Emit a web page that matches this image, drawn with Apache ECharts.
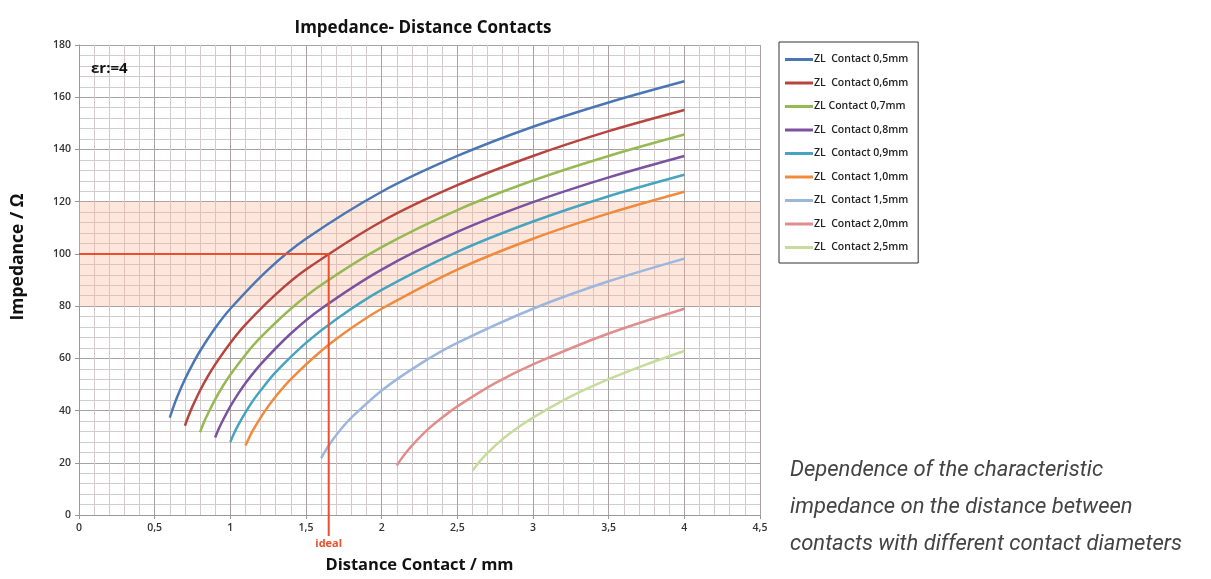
<!DOCTYPE html>
<html>
<head>
<meta charset="utf-8">
<script src="https://cdn.jsdelivr.net/npm/echarts@6/dist/echarts.min.js"></script>
<style>html,body{margin:0;padding:0;background:#fff;}#c{width:1211px;height:579px;}</style>
</head>
<body>
<div id="c"></div>
<script>
// ---- data ----
const seriesNames = ['ZL  Contact 0,5mm','ZL  Contact 0,6mm','ZL Contact 0,7mm','ZL  Contact 0,8mm','ZL  Contact 0,9mm','ZL  Contact 1,0mm','ZL  Contact 1,5mm','ZL  Contact 2,0mm','ZL  Contact 2,5mm'];
const seriesColors = ['#4a76b5','#b8443f','#96b954','#7a52a0','#47a4bf','#f08a3c','#9bb7de','#e08e8c','#c5dc9c'];

const dist05 = [0.6, 0.625, 0.65, 0.7, 0.75, 0.8, 0.9, 1.0, 1.25, 1.5, 2, 2.5, 3, 3.5, 4];
const imp05  = [37.3, 41.6, 45.4, 52.0, 57.7, 62.8, 71.6, 79.0, 94.0, 105.8, 123.8, 137.5, 148.7, 158.0, 166.1];
const dist06 = [0.7, 0.725, 0.75, 0.8, 0.85, 0.9, 1.0, 1.1, 1.3, 1.5, 2, 2.5, 3, 3.5, 4];
const imp06  = [34.2, 38.1, 41.6, 47.7, 53.0, 57.7, 65.9, 72.9, 84.5, 94.0, 112.4, 126.3, 137.5, 147.0, 155.1];
const dist07 = [0.8, 0.825, 0.85, 0.9, 0.95, 1.0, 1.1, 1.2, 1.4, 1.6, 2, 2.5, 3, 3.5, 4];
const imp07  = [31.7, 35.4, 38.6, 44.3, 49.3, 53.7, 61.4, 68.0, 79.0, 88.1, 102.6, 116.8, 128.1, 137.5, 145.7];
const dist08 = [0.9, 0.925, 0.95, 1.0, 1.05, 1.1, 1.2, 1.4, 1.6, 2, 2.5, 3, 3.5, 4];
const imp08  = [29.7, 33.2, 36.2, 41.6, 46.3, 50.5, 57.7, 69.5, 79.0, 94.0, 108.4, 119.8, 129.3, 137.5];
const dist09 = [1.0, 1.025, 1.05, 1.1, 1.15, 1.2, 1.3, 1.5, 1.7, 2, 2.5, 3, 3.5, 4];
const imp09  = [28.0, 31.3, 34.2, 39.3, 43.8, 47.7, 54.7, 65.9, 75.0, 86.2, 100.8, 112.4, 122.1, 130.3];
const dist10 = [1.1, 1.125, 1.15, 1.2, 1.25, 1.3, 1.4, 1.6, 1.8, 2, 2.5, 3, 3.5, 4];
const imp10  = [26.6, 29.7, 32.5, 37.3, 41.6, 45.4, 52.0, 62.8, 71.6, 79.0, 94.0, 105.8, 115.5, 123.8];
const dist15 = [1.6, 1.625, 1.65, 1.7, 1.75, 1.8, 2, 2.25, 2.5, 3, 3.5, 4];
const imp15  = [21.8, 24.3, 26.6, 30.6, 34.2, 37.3, 47.7, 57.7, 65.9, 79.0, 89.5, 98.2];
const dist20 = [2.1, 2.125, 2.15, 2.2, 2.3, 2.4, 2.5, 2.75, 3, 3.5, 4];
const imp20  = [18.9, 21.1, 23.1, 26.6, 32.5, 37.3, 41.6, 50.5, 57.7, 69.5, 79.0];
const dist25 = [2.6, 2.625, 2.65, 2.7, 2.8, 2.9, 3, 3.25, 3.5, 3.75, 4];
const imp25  = [16.9, 18.9, 20.7, 23.8, 29.1, 33.5, 37.3, 45.4, 52.0, 57.7, 62.8];

const idealDistance = 1.65;
const idealImpedance = 100;
const bandLow = 80, bandHigh = 120;
const xTicks = ['0','0,5','1','1,5','2','2,5','3','3,5','4','4,5'];
const captionLines = ['Dependence of the characteristic','impedance on the distance between','contacts with different contact diameters'];

const allDist = [dist05, dist06, dist07, dist08, dist09, dist10, dist15, dist20, dist25];
const allImp  = [imp05, imp06, imp07, imp08, imp09, imp10, imp15, imp20, imp25];

const chart = echarts.init(document.getElementById('c'), null, {renderer:'canvas'});
const FONT = 'Open Sans';

const series = seriesNames.map((name, i) => ({
  name: name,
  type: 'line',
  data: allDist[i].map((d, k) => [d, allImp[i][k]]),
  smooth: 0.3,
  showSymbol: false,
  symbol: 'none',
  lineStyle: {color: seriesColors[i], width: 2.5},
  itemStyle: {color: seriesColors[i]},
  z: 3
}));

// band + ideal marker
series.unshift({
  name: 'band',
  type: 'line',
  data: [],
  silent: true,
  markArea: {
    silent: true,
    itemStyle: {color: 'rgba(248,180,150,0.33)'},
    data: [[{yAxis: bandLow}, {yAxis: bandHigh}]]
  },
  z: 1
});
series.push({
  name: 'ideal',
  type: 'line',
  clip: false,
  silent: true,
  symbol: 'none',
  lineStyle: {color: '#e8502f', width: 2},
  data: [[0, idealImpedance], [idealDistance, idealImpedance], [idealDistance, -8]],
  markPoint: {
    silent: true,
    symbol: 'circle', symbolSize: 1,
    itemStyle: {color: 'rgba(0,0,0,0)'},
    label: {show: true, formatter: 'ideal', position: 'inside', offset: [0, 29], color: '#e8502f', fontFamily: FONT, fontWeight: 'bold', fontSize: 11},
    data: [{coord: [idealDistance, 0]}]
  },
  z: 4
});

chart.setOption({
  animation: false,
  backgroundColor: '#fff',
  title: {
    text: 'Impedance- Distance Contacts',
    left: 418, top: 15, textAlign: 'center',
    textStyle: {fontFamily: FONT, fontWeight: 'bold', fontSize: 17, color: '#111'}
  },
  legend: {
    data: seriesNames,
    orient: 'vertical',
    left: 779, top: 42,
    padding: [11, 10, 9, 6],
    itemGap: 10.5,
    itemWidth: 28, itemHeight: 3,
    icon: 'rect',
    borderColor: '#333', borderWidth: 1,
    backgroundColor: '#fff',
    textStyle: {fontFamily: FONT, fontSize: 10.5, fontWeight: 600, lineHeight: 13, color: '#222', padding: [0,0,0,-4]}
  },
  grid: {left: 79, right: 451, top: 45, bottom: 62, containLabel: false},
  xAxis: {
    type: 'value', min: 0, max: 4.5, interval: 0.5,
    name: 'Distance Contact / mm', nameLocation: 'middle', nameGap: 42,
    nameTextStyle: {fontFamily: FONT, fontWeight: 'bold', fontSize: 16.5, color: '#111'},
    axisLine: {show: true, lineStyle: {color: '#999'}},
    axisTick: {show: true, length: 4, lineStyle: {color: '#999'}},
    axisLabel: {fontFamily: FONT, fontSize: 10.5, fontWeight: 600, color: '#333', margin: 8,
      formatter: v => xTicks[Math.round(v / 0.5)]},
    splitLine: {show: true, lineStyle: {color: '#aaa2a2', width: 1}},
    minorTick: {show: false, splitNumber: 5},
    minorSplitLine: {show: true, lineStyle: {color: '#d3cbcb', width: 1}}
  },
  yAxis: {
    type: 'value', min: 0, max: 180, interval: 20,
    axisLine: {show: true, lineStyle: {color: '#999'}},
    axisTick: {show: true, length: 4, lineStyle: {color: '#999'}},
    axisLabel: {fontFamily: FONT, fontSize: 10.5, fontWeight: 600, color: '#333', margin: 8},
    splitLine: {show: true, lineStyle: {color: '#aaa2a2', width: 1}},
    minorTick: {show: false, splitNumber: 5},
    minorSplitLine: {show: true, lineStyle: {color: '#d3cbcb', width: 1}}
  },
  graphic: [
    {type: 'text', x: 18, y: 257, rotation: Math.PI / 2, z: 10,
      style: {text: 'Impedance / Ω', fontFamily: FONT, fontWeight: 'bold', fontSize: 17.5, fill: '#111', align: 'center', verticalAlign: 'middle'}},
    {type: 'text', left: 91, top: 61, z: 10,
      style: {text: 'εr:=4', fontFamily: FONT, fontWeight: 'bold', fontSize: 15, fill: '#111'}},
    {type: 'text', left: 790, top: 459, z: 10,
      style: {text: captionLines[0], fontFamily: 'Roboto', fontStyle: 'italic', fontSize: 22, fill: '#444'}},
    {type: 'text', left: 790, top: 496, z: 10,
      style: {text: captionLines[1], fontFamily: 'Roboto', fontStyle: 'italic', fontSize: 22, fill: '#444'}},
    {type: 'text', left: 790, top: 533, z: 10,
      style: {text: captionLines[2], fontFamily: 'Roboto', fontStyle: 'italic', fontSize: 22, fill: '#444'}}
  ],
  series: series
});
</script>
</body>
</html>
